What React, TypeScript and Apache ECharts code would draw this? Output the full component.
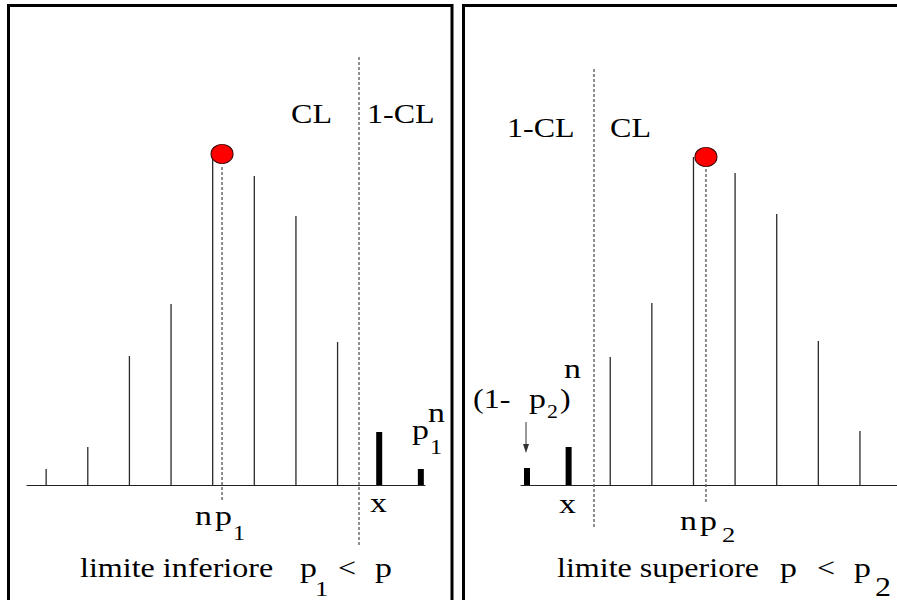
import React, { useEffect, useRef } from "react";
import * as echarts from "echarts";

// Left panel (limite inferiore): k = 0..9
const leftStemK = [0, 1, 2, 3, 4, 5, 6, 7];
const leftStemH = [1.6, 3.8, 12.9, 18.1, 32.7, 30.9, 26.9, 14.3];
const leftBarK = [8, 9];
const leftBarH = [5.3, 1.6];
// Right panel (limite superiore): k = 0..8
const rightBarK = [0, 1];
const rightBarH = [1.7, 3.8];
const rightStemK = [2, 3, 4, 5, 6, 7, 8];
const rightStemH = [12.8, 18.2, 32.8, 31.2, 27.1, 14.4, 5.4];
// markers: mean n*p and CL boundary
const leftMean = [4.225, 33.1];
const rightMean = [4.3, 32.8];
const leftDashed = [
  [4.225, -1.5, 32.0],
  [7.515, -6.0, 43.0],
];
const rightDashed = [
  [4.3, -1.7, 31.8],
  [1.61, -4.2, 41.7],
];

const FONT = "Liberation Serif";
const SX = 1.21;

function T(x: number, baseline: number, text: string, fs = 26.5): any {
  return {
    type: "text",
    x,
    y: baseline - 0.3375 * fs,
    scaleX: SX,
    z: 10,
    style: {
      text,
      fontSize: fs,
      fontFamily: FONT,
      fill: "#000",
      align: "left",
      verticalAlign: "middle",
    },
  };
}

const stemRender = (params: any, api: any) => {
  const p0 = api.coord([api.value(0), 0]);
  const p1 = api.coord([api.value(0), api.value(1)]);
  return {
    type: "line",
    shape: { x1: p0[0], y1: p0[1], x2: p1[0], y2: p1[1] },
    style: { stroke: "#2a2a2a", lineWidth: 1.3 },
  };
};
const barRender = (params: any, api: any) => {
  const p0 = api.coord([api.value(0), 0]);
  const p1 = api.coord([api.value(0), api.value(1)]);
  return {
    type: "rect",
    shape: { x: p1[0] - 3, y: p1[1], width: 6, height: p0[1] - p1[1] },
    style: { fill: "#000" },
  };
};
const dashRender = (params: any, api: any) => {
  const p0 = api.coord([api.value(0), api.value(1)]);
  const p1 = api.coord([api.value(0), api.value(2)]);
  return {
    type: "line",
    shape: { x1: p0[0], y1: p0[1], x2: p1[0], y2: p1[1] },
    style: { stroke: "#555", lineWidth: 1.3, lineDash: [3, 2] },
  };
};

const zip = (a: number[], b: number[]) => a.map((v, i) => [v, b[i]]);

export default function App() {
  const ref = useRef<HTMLDivElement>(null);
  useEffect(() => {
    if (!ref.current) return;
    const chart = echarts.init(ref.current, null, { renderer: "svg" });
    const xAxisBase = {
      type: "value",
      axisLine: { show: true, onZero: false, lineStyle: { color: "#222", width: 1 } },
      axisTick: { show: false },
      axisLabel: { show: false },
      splitLine: { show: false },
    };
    const yAxisBase = {
      type: "value",
      min: 0,
      max: 35,
      show: false,
      splitLine: { show: false },
    };
    const custom = (type: string, idx: number, data: number[][], render: any, z = 2) => ({
      type: "custom",
      xAxisIndex: idx,
      yAxisIndex: idx,
      clip: false,
      silent: true,
      z,
      renderItem: render,
      encode: { x: 0, y: 1 },
      data,
      name: type,
    });
    chart.setOption({
      animation: false,
      backgroundColor: "#fff",
      grid: [
        { left: 27, width: 398, bottom: 115, height: 350 },
        { left: 521, width: 376, bottom: 115, height: 350 },
      ],
      xAxis: [
        { ...xAxisBase, gridIndex: 0, min: -0.46, max: 9.1 },
        { ...xAxisBase, gridIndex: 1, min: -0.144, max: 8.89 },
      ],
      yAxis: [
        { ...yAxisBase, gridIndex: 0 },
        { ...yAxisBase, gridIndex: 1 },
      ],
      series: [
        custom("ls", 0, zip(leftStemK, leftStemH), stemRender),
        custom("lb", 0, zip(leftBarK, leftBarH), barRender),
        custom("rs", 1, zip(rightStemK, rightStemH), stemRender),
        custom("rb", 1, zip(rightBarK, rightBarH), barRender),
        custom("ld", 0, leftDashed, dashRender, 3),
        custom("rd", 1, rightDashed, dashRender, 3),
        {
          type: "scatter",
          xAxisIndex: 0,
          yAxisIndex: 0,
          symbol: "circle",
          symbolSize: [22, 19],
          z: 5,
          silent: true,
          itemStyle: { color: "#ff0000", borderColor: "#3a0000", borderWidth: 1, opacity: 1 },
          data: [leftMean],
        },
        {
          type: "scatter",
          xAxisIndex: 1,
          yAxisIndex: 1,
          symbol: "circle",
          symbolSize: [22, 19],
          z: 5,
          silent: true,
          itemStyle: { color: "#ff0000", borderColor: "#3a0000", borderWidth: 1, opacity: 1 },
          data: [rightMean],
        },
      ],
      graphic: [
        // panel frames
        {
          type: "rect",
          shape: { x: 8.5, y: 5.5, width: 443.5, height: 700 },
          style: { fill: "none", stroke: "#000", lineWidth: 3 },
          silent: true,
        },
        {
          type: "rect",
          shape: { x: 463.5, y: 5.5, width: 600, height: 700 },
          style: { fill: "none", stroke: "#000", lineWidth: 3 },
          silent: true,
        },
        // left texts
        T(291, 123, "CL"),
        T(367, 123, "1-CL"),
        T(195, 525, "n", 28),
        T(215, 525, "p", 28),
        T(233, 540, "1", 20),
        T(370, 512, "x", 28),
        T(412, 439, "p", 28),
        T(430, 454, "1", 20),
        T(428, 422, "n", 28),
        T(80, 577, "limite inferiore"),
        T(300, 577, "p", 28),
        T(315, 596, "1", 22),
        T(338, 577, "<"),
        T(375, 577, "p", 28),
        // right texts
        T(507, 137, "1-CL"),
        T(610, 137, "CL"),
        T(473, 408, "(1-"),
        T(529, 408, "p", 28),
        T(547, 418, "2", 18),
        T(560, 408, ")"),
        T(564, 378, "n", 28),
        T(559, 513, "x", 28),
        T(680, 530, "n", 28),
        T(700, 530, "p", 28),
        T(722, 542, "2", 22),
        T(557, 577, "limite superiore"),
        T(780, 577, "p", 28),
        T(817, 577, "<"),
        T(854, 577, "p", 28),
        T(875, 596, "2", 26.5),
        // arrow
        {
          type: "line",
          shape: { x1: 526, y1: 422, x2: 526, y2: 448 },
          style: { stroke: "#333", lineWidth: 1 },
          silent: true,
        },
        {
          type: "polygon",
          shape: { points: [[523, 444], [529, 444], [526, 453]] },
          style: { fill: "#333" },
          silent: true,
        },
      ],
    });
    return () => chart.dispose();
  }, []);
  return (
    <div
      ref={ref}
      style={{ position: "absolute", left: 0, top: 0, width: 897, height: 600, background: "#fff" }}
    />
  );
}
